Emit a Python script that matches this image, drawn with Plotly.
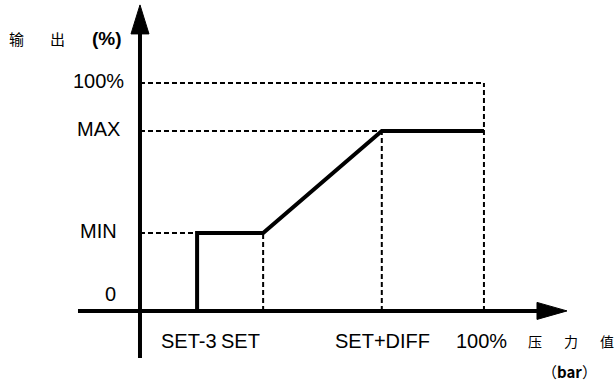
import plotly.graph_objects as go

# ---- data (schematic units: 100 = 100 %) ----
x_labels = ["SET-3", "SET", "SET+DIFF", "100%"]
x_values = [16.6, 35.8, 70.3, 100.0]
y_labels = ["0", "MIN", "MAX", "100%"]
y_values = [0.0, 34.2, 78.9, 100.0]

curve_x = [16.6, 16.6, 35.8, 70.3, 100.0]
curve_y = [0.0, 34.2, 34.2, 78.9, 78.9]

y_title_chars = ["输", "出"]
y_title_unit = "(%)"
x_title_chars = ["压", "力", "值"]
x_title_unit = "（<b>bar</b>）"

# ---- layout constants ----
X_RANGE = [-40.7, 138.1]
Y_RANGE = [-32.5, 136.4]
PX_X = 615 / (X_RANGE[1] - X_RANGE[0])
PX_Y = 385 / (Y_RANGE[1] - Y_RANGE[0])

FONT = "Liberation Sans, Arial, Noto Sans CJK SC, sans-serif"
CJK = "Noto Sans CJK SC, sans-serif"
TICK_SIZE = 20

fig = go.Figure()

fig.add_trace(go.Scatter(
    x=curve_x, y=curve_y, mode="lines",
    line=dict(color="black", width=4), hoverinfo="skip", showlegend=False))

shapes = []
dash = dict(color="black", width=2, dash="5px,3px")
# horizontal guides
shapes.append(dict(type="line", x0=0, y0=y_values[1], x1=x_values[0], y1=y_values[1], line=dash))
shapes.append(dict(type="line", x0=0, y0=y_values[2], x1=x_values[2], y1=y_values[2], line=dash))
shapes.append(dict(type="line", x0=0, y0=y_values[3], x1=x_values[3], y1=y_values[3], line=dash))
# vertical guides
shapes.append(dict(type="line", x0=x_values[1], y0=0, x1=x_values[1], y1=y_values[1], line=dash))
shapes.append(dict(type="line", x0=x_values[2], y0=0, x1=x_values[2], y1=y_values[2], line=dash))
shapes.append(dict(type="line", x0=x_values[3], y0=0, x1=x_values[3], y1=y_values[3], line=dash))

# axes with arrows
ax = dict(color="black", width=4)
x_start, x_tip = -62 / PX_X, 427 / PX_X
x_head_len, x_head_half = 30 / PX_X, 8.5 / PX_Y
y_start, y_tip = -47 / PX_Y, 306 / PX_Y
y_head_len, y_head_half = 29 / PX_Y, 9 / PX_X

shapes.append(dict(type="line", x0=x_start, y0=0, x1=x_tip - x_head_len, y1=0, line=ax))
shapes.append(dict(type="line", x0=0, y0=y_start, x1=0, y1=y_tip - y_head_len, line=ax))
shapes.append(dict(type="path",
                   path=f"M {x_tip - x_head_len} {x_head_half} L {x_tip} 0 L {x_tip - x_head_len} {-x_head_half} Z",
                   fillcolor="black", line=dict(color="black", width=1)))
shapes.append(dict(type="path",
                   path=f"M {-y_head_half} {y_tip - y_head_len} L 0 {y_tip} L {y_head_half} {y_tip - y_head_len} Z",
                   fillcolor="black", line=dict(color="black", width=1)))

annotations = []
# y tick labels
for lab, v in zip(y_labels, y_values):
    if lab == "0":
        annotations.append(dict(x=-8.7, y=v, text=lab, showarrow=False, xanchor="center",
                                yanchor="middle", yshift=17, font=dict(family=FONT, size=TICK_SIZE, color="black")))
    else:
        annotations.append(dict(x=-12.0, y=v, text=lab, showarrow=False, xanchor="center",
                                yanchor="middle", yshift=2, font=dict(family=FONT, size=TICK_SIZE, color="black")))
# x tick labels
for lab, v in zip(x_labels, x_values):
    shift = -23 if lab == "SET" else (-8 if lab == "SET-3" else (-2 if lab == "100%" else 1))
    annotations.append(dict(x=v, y=0, text=lab, showarrow=False, xanchor="center", yanchor="middle",
                            yshift=-30, xshift=shift, font=dict(family=FONT, size=TICK_SIZE, color="black")))

# y title
for i, ch in enumerate(y_title_chars):
    annotations.append(dict(x=-35.8 + i * 11.7, y=119.7, text=ch, showarrow=False, xanchor="center",
                            yanchor="middle", font=dict(family=CJK, size=15, color="black")))
annotations.append(dict(x=-9.6, y=119.7, text="<b>" + y_title_unit + "</b>", showarrow=False,
                        xanchor="center", yanchor="middle", font=dict(family=FONT, size=19, color="black")))
# x title
for i, ch in enumerate(x_title_chars):
    annotations.append(dict(x=114.8 + i * 10.5, y=-13.2, text=ch, showarrow=False, xanchor="center",
                            yanchor="middle", font=dict(family=CJK, size=14, color="black")))
annotations.append(dict(x=125.0, y=-26.6, text=x_title_unit, showarrow=False, xanchor="center",
                        yanchor="middle", borderpad=0, font=dict(family=CJK, size=15, color="black")))

fig.update_layout(
    width=615, height=385, autosize=False,
    margin=dict(l=0, r=0, t=0, b=0, pad=0),
    paper_bgcolor="white", plot_bgcolor="white",
    xaxis=dict(range=X_RANGE, visible=False, fixedrange=True),
    yaxis=dict(range=Y_RANGE, visible=False, fixedrange=True),
    shapes=shapes, annotations=annotations, showlegend=False,
)

fig.write_html("out.html", config={"displayModeBar": False},
               post_script="document.body.style.margin='0px';document.body.style.overflow='hidden';")
